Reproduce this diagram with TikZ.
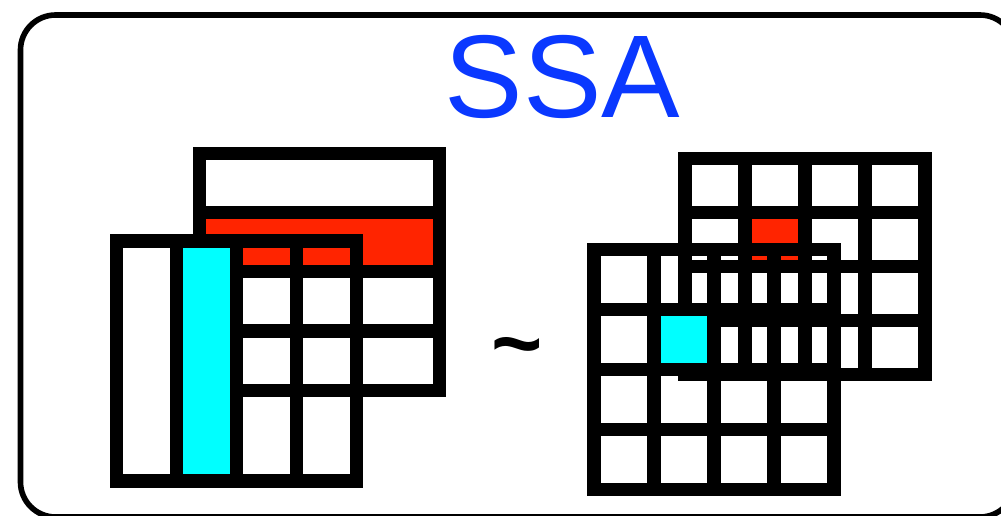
\documentclass[tikz,border=0pt]{standalone}
\usepackage{fontspec}
\setmainfont{Liberation Sans}
\usetikzlibrary{arrows.meta, positioning}
\definecolor{ssablue}{RGB}{10,56,255}
\definecolor{rowred}{RGB}{255,36,0}
\definecolor{colcyan}{RGB}{0,255,255}

\begin{document}
\begin{tikzpicture}[x=0.02cm,y=-0.02cm,
  cellline/.style={line width=7.6pt},
  frameline/.style={line width=3.2pt,rounded corners=0.7cm}]
  \clip (0,0) rectangle (1001,515);
  \fill[white] (0,0) rectangle (1001,515);
  \draw[frameline] (20.5,15) rectangle (1015,517);
  \node[text=ssablue,font=\fontsize{67}{67}\selectfont,
        anchor=base,inner sep=0pt] (title) at (562.5,117.5) {SSA};
  % left: rows behind, columns in front
  \fill[rowred] (199.3,212.3) rectangle (439.3,271.7);
  \draw[cellline] (199.3,153.3) rectangle (439.3,390.3);
  \foreach \y in {212.3,271.7,331}
    \draw[cellline] (199.3,\y) -- (439.3,\y);
  \fill[colcyan] (176.7,241) rectangle (236.7,481);
  \draw[cellline] (116.7,241) rectangle (356.7,481);
  \foreach \x in {176.7,236.7,296.7}
    \draw[cellline] (\x,241) -- (\x,481);
  \node[font=\fontsize{50}{50}\selectfont\bfseries,
        anchor=base,inner sep=0pt] (tilde) at (517,373.5) {\textasciitilde};
  % right: cells behind and in front
  \fill[white] (685,158.7) rectangle (925,374.7);
  \fill[rowred] (745,212.7) rectangle (805,266.7);
  \draw[cellline] (685,158.7) rectangle (925,374.7);
  \foreach \x in {745,805,865}
    \draw[cellline] (\x,158.7) -- (\x,374.7);
  \foreach \y in {212.7,266.7,320.7}
    \draw[cellline] (685,\y) -- (925,\y);
  \fill[colcyan] (654,309.3) rectangle (714,369.3);
  \draw[cellline] (594,249.3) rectangle (834,489.3);
  \foreach \x in {654,714,774}
    \draw[cellline] (\x,249.3) -- (\x,489.3);
  \foreach \y in {309.3,369.3,429.3}
    \draw[cellline] (594,\y) -- (834,\y);
\end{tikzpicture}
\end{document}
